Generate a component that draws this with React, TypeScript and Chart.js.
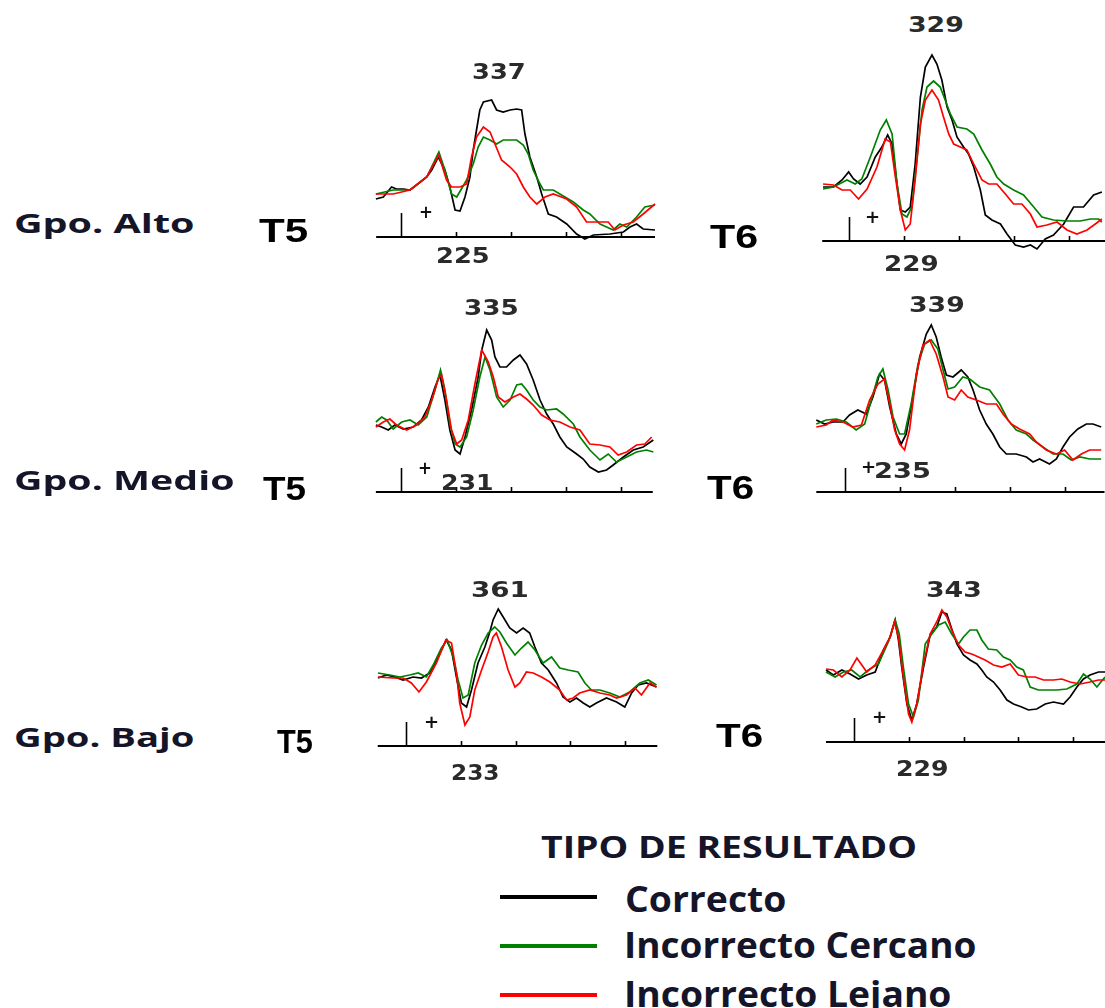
import React, { useEffect, useRef } from "react";
import { Chart, registerables } from "chart.js";

Chart.register(...registerables);

// ---------------- DATA ----------------
// Each trace: [time (ms after stimulus), amplitude (µV, arbitrary units above the axis)]
const seriesNames = ["Correcto", "Incorrecto Cercano", "Incorrecto Lejano"];
const seriesColors = ["#000000", "#008000", "#ff0000"];
const groupLabels = ["Gpo. Alto", "Gpo. Medio", "Gpo. Bajo"];
const electrodeLabels = ["T5", "T6"];
const tickTimes = [0, 200, 400, 600, 800];
const legendTitle = "TIPO DE RESULTADO";

// peak latency labels: [upper, lower] per panel
const altoT5Peaks = ["337", "225"];
const altoT6Peaks = ["329", "229"];
const medioT5Peaks = ["335", "231"];
const medioT6Peaks = ["339", "235"];
const bajoT5Peaks = ["361", "233"];
const bajoT6Peaks = ["343", "229"];

const altoT5Correcto = [[-90,3.8],[-63,4.0],[-33,5.0],[-15,4.8],[10,4.8],[34,4.7],[58,5.2],[95,6.0],[113,6.7],[137,8.0],[161,6.7],[179,5.0],[198,2.7],[216,2.6],[234,4.0],[252,6.0],[264,8.7],[276,10.7],[288,12.7],[301,13.5],[331,13.7],[349,12.7],[373,12.5],[398,12.7],[422,12.8],[440,12.7],[452,10.3],[470,8.0],[495,6.0],[513,4.3],[537,2.3],[567,2.0],[604,1.3],[640,0.3],[670,-0.2],[701,0.2],[761,0.3],[810,0.5],[834,1.0],[858,1.3],[882,0.8],[925,0.7]];
const altoT5Cercano = [[-90,4.3],[-27,4.7],[34,4.7],[95,6.0],[139,8.5],[161,6.7],[185,4.3],[204,4.0],[240,5.7],[264,7.3],[282,9.0],[301,10.0],[325,9.7],[349,9.3],[373,9.7],[422,9.7],[446,9.2],[464,8.3],[482,6.7],[507,5.3],[519,4.7],[555,4.7],[579,4.3],[628,3.5],[664,2.7],[688,2.3],[725,1.3],[773,0.7],[797,1.3],[822,1.0],[858,2.0],[888,3.0],[925,3.2]];
const altoT5Lejano = [[-90,4.3],[-27,4.3],[34,4.7],[95,6.0],[139,8.2],[167,5.7],[185,5.0],[216,5.0],[240,5.3],[258,8.0],[276,10.0],[301,11.0],[325,10.5],[343,9.3],[367,7.7],[398,7.0],[422,6.3],[446,5.0],[470,4.0],[495,3.3],[525,4.0],[555,4.3],[604,3.8],[640,3.0],[676,1.5],[725,1.5],[755,1.5],[779,0.7],[810,1.2],[846,1.5],[882,2.3],[925,3.3]];

const altoT6Correcto = [[-93,5.4],[-55,5.4],[-24,6.1],[0,6.9],[18,6.2],[42,5.7],[67,6.4],[97,8.4],[121,9.4],[142,10.6],[158,9.7],[176,5.7],[188,3.1],[206,2.9],[224,3.4],[242,7.7],[261,14.4],[279,17.4],[303,18.6],[321,17.7],[339,16.1],[358,13.4],[376,12.1],[394,10.4],[418,9.4],[436,8.7],[455,7.4],[479,5.1],[497,2.6],[521,2.1],[552,1.7],[576,0.7],[606,-0.4],[636,-0.6],[661,-0.4],[685,-0.8],[715,0.2],[745,0.6],[782,1.7],[818,3.4],[854,3.4],[891,4.6],[921,4.9]];
const altoT6Cercano = [[-93,5.2],[-55,5.4],[-6,6.1],[24,5.7],[48,6.2],[79,8.4],[115,11.1],[137,12.1],[158,10.7],[176,5.7],[194,2.7],[212,2.4],[230,3.4],[248,8.1],[267,13.1],[285,15.4],[309,16.0],[333,15.4],[351,14.1],[370,12.7],[394,11.4],[430,11.2],[455,10.7],[485,9.1],[515,7.7],[539,6.4],[564,5.7],[600,5.1],[636,4.6],[673,3.4],[703,2.4],[745,2.1],[794,2.0],[842,2.0],[879,2.2],[909,2.2],[921,1.9]];
const altoT6Lejano = [[-93,5.7],[-55,5.6],[-24,5.1],[6,5.1],[36,4.2],[67,5.2],[103,7.4],[133,10.2],[152,9.9],[170,6.4],[188,3.1],[206,1.1],[224,1.7],[242,6.1],[261,11.7],[279,14.1],[303,15.1],[327,14.1],[345,12.4],[364,10.7],[382,9.7],[406,9.4],[430,9.1],[455,7.7],[485,6.1],[509,5.7],[539,5.7],[570,4.7],[600,3.7],[630,3.7],[661,2.7],[685,1.4],[721,1.6],[758,1.9],[794,1.1],[830,0.7],[867,1.1],[897,1.7],[921,2.2]];

const medioT5Correcto = [[-90,6.7],[-69,6.5],[-45,6.2],[-21,6.7],[10,6.3],[46,6.5],[76,7.2],[101,8.5],[125,10.5],[143,11.7],[161,9.2],[179,6.2],[198,4.2],[216,3.8],[234,5.5],[258,8.2],[282,11.5],[295,14.2],[313,16.2],[331,15.2],[343,13.5],[361,12.5],[385,12.5],[410,13.2],[434,13.7],[458,12.8],[482,11.2],[507,9.2],[531,7.8],[555,6.8],[579,5.5],[604,4.5],[640,3.8],[664,3.3],[688,2.5],[719,2.0],[749,2.2],[773,2.7],[810,3.5],[846,4.2],[882,4.5],[919,5.2]];
const medioT5Cercano = [[-90,7.0],[-69,7.5],[-51,7.2],[-27,6.3],[4,7.0],[34,7.2],[64,6.7],[95,7.5],[125,10.2],[145,12.2],[161,10.2],[179,6.8],[198,4.8],[216,4.5],[240,5.5],[264,8.2],[288,11.5],[307,13.5],[325,12.2],[349,9.5],[373,8.5],[398,9.2],[422,10.7],[440,10.8],[458,10.2],[482,9.2],[507,8.5],[531,8.2],[567,8.3],[591,7.8],[628,6.8],[652,5.5],[688,4.2],[725,3.2],[755,3.8],[785,3.0],[822,3.5],[858,4.0],[894,4.2],[919,4.0]];
const medioT5Lejano = [[-90,6.5],[-63,7.0],[-39,7.3],[-15,6.7],[22,6.2],[58,6.7],[88,7.5],[113,9.2],[137,11.3],[149,11.7],[167,9.2],[185,6.2],[204,4.8],[222,5.2],[246,7.2],[270,10.8],[295,14.2],[319,13.0],[337,11.5],[355,9.5],[379,9.0],[410,9.5],[434,9.8],[458,9.3],[482,8.7],[513,7.7],[543,7.2],[579,7.0],[616,6.5],[652,6.2],[688,4.8],[725,4.7],[761,4.5],[791,3.7],[822,4.0],[858,4.7],[888,4.8],[913,5.5]];

const medioT6Correcto = [[-103,7.2],[-73,6.8],[-42,7.0],[-6,7.0],[18,7.7],[48,8.2],[79,7.8],[103,9.5],[127,11.8],[145,11.2],[164,8.5],[188,5.8],[206,4.8],[224,5.8],[248,9.5],[273,13.5],[297,15.8],[315,16.7],[333,15.5],[351,13.5],[370,11.7],[394,11.5],[424,12.2],[448,11.5],[467,10.2],[491,8.2],[515,6.8],[539,5.8],[564,4.5],[588,3.8],[624,3.8],[661,3.5],[685,3.0],[709,3.3],[745,2.8],[770,3.3],[794,4.5],[818,5.5],[848,6.3],[879,6.8],[903,6.8],[933,6.5]];
const medioT6Cercano = [[-103,6.8],[-67,7.2],[-30,7.3],[6,7.0],[42,6.2],[73,6.8],[97,9.2],[121,11.5],[139,12.3],[158,10.2],[176,7.5],[200,5.8],[218,5.8],[242,8.8],[267,12.8],[291,14.8],[315,15.2],[339,14.3],[358,12.2],[376,10.3],[400,10.5],[430,11.5],[455,11.3],[491,10.5],[527,10.2],[564,8.8],[594,7.2],[624,6.2],[661,5.8],[685,5.2],[721,4.5],[758,3.8],[794,3.8],[824,3.2],[855,3.5],[891,3.3],[933,3.3]];
const medioT6Lejano = [[-103,6.5],[-67,6.7],[-42,7.2],[-6,7.0],[30,6.5],[61,6.7],[91,9.2],[121,10.8],[145,11.3],[164,8.8],[182,6.2],[200,4.8],[218,4.2],[236,6.2],[261,11.8],[285,14.7],[309,15.2],[333,13.8],[358,11.5],[376,9.5],[400,9.2],[424,10.2],[448,9.5],[479,9.2],[515,8.8],[552,8.8],[576,7.8],[606,6.8],[636,6.3],[673,5.8],[697,5.0],[733,4.2],[770,3.8],[800,4.2],[830,3.2],[861,3.8],[891,4.2],[933,4.2]];

const bajoT5Correcto = [[-104,6.8],[-73,7.1],[-43,6.9],[-12,6.6],[24,6.9],[55,6.8],[85,7.3],[116,8.9],[146,10.6],[165,9.6],[183,6.9],[201,4.3],[220,3.9],[238,5.6],[262,8.3],[287,9.9],[305,11.4],[317,12.6],[336,13.7],[354,12.9],[378,11.8],[403,11.3],[427,11.8],[451,11.3],[470,9.9],[494,8.3],[519,7.6],[549,6.3],[573,4.9],[598,4.4],[622,4.8],[647,4.3],[671,3.9],[695,4.3],[732,4.8],[769,4.4],[799,3.9],[824,5.3],[848,6.1],[878,6.3],[915,5.9]];
const bajoT5Cercano = [[-104,7.3],[-61,7.1],[-24,6.9],[12,7.1],[43,7.3],[73,6.9],[98,8.1],[128,9.8],[149,10.6],[171,8.9],[189,6.6],[207,4.8],[226,5.1],[250,8.3],[275,10.1],[299,11.3],[323,11.9],[342,11.4],[366,10.3],[397,9.1],[421,9.8],[445,10.4],[470,9.6],[500,8.3],[531,8.9],[561,7.8],[592,7.6],[628,7.4],[653,6.3],[677,5.6],[708,5.6],[744,5.3],[781,4.9],[817,5.4],[854,6.3],[885,6.6],[915,6.1]];
const bajoT5Lejano = [[-104,6.9],[-49,6.8],[-12,6.8],[18,6.3],[46,5.4],[73,6.4],[110,8.3],[144,10.6],[165,10.3],[183,7.3],[195,4.3],[214,2.1],[232,2.9],[250,5.6],[275,7.6],[299,9.4],[317,10.9],[329,11.3],[348,9.9],[372,7.6],[397,5.9],[415,6.3],[439,7.4],[464,7.3],[494,6.9],[525,6.4],[561,5.6],[586,4.6],[610,4.8],[634,5.3],[671,5.6],[708,5.3],[744,5.1],[769,4.8],[805,5.1],[836,5.8],[860,5.1],[891,6.3],[915,5.9]];

const bajoT6Correcto = [[-104,7.2],[-77,6.7],[-46,7.2],[-16,6.8],[15,6.3],[45,6.7],[76,7.0],[106,9.2],[131,10.5],[149,12.2],[161,10.2],[173,7.5],[192,3.8],[210,2.2],[228,3.8],[253,7.5],[277,10.7],[301,11.5],[320,13.0],[338,12.8],[356,11.3],[375,9.8],[399,8.7],[423,8.2],[448,7.8],[466,7.2],[484,6.5],[509,6.0],[533,5.2],[558,4.2],[582,3.8],[612,3.5],[637,3.2],[667,3.3],[698,3.8],[728,4.0],[765,3.8],[789,4.5],[814,5.5],[838,6.3],[862,6.7],[893,7.0],[917,7.0]];
const bajoT6Cercano = [[-104,7.0],[-71,6.5],[-40,7.0],[-10,7.2],[21,6.5],[51,7.2],[88,7.8],[124,10.0],[149,12.2],[164,10.8],[179,7.5],[198,3.8],[216,2.5],[234,4.2],[259,9.8],[283,10.8],[308,11.7],[332,12.0],[356,10.8],[381,9.8],[399,10.5],[423,11.2],[448,11.2],[466,10.2],[490,9.3],[521,9.2],[545,8.5],[570,8.2],[594,7.5],[618,7.2],[643,5.5],[673,5.2],[704,5.2],[740,5.2],[777,5.3],[814,5.8],[838,6.8],[862,6.3],[887,5.5],[917,6.5]];
const bajoT6Lejano = [[-104,7.3],[-77,7.2],[-46,6.5],[-16,7.2],[9,8.4],[27,7.7],[45,7.0],[76,7.7],[106,9.2],[131,10.5],[146,12.0],[161,10.5],[179,6.5],[198,2.8],[210,2.0],[228,3.8],[253,7.8],[277,10.8],[301,12.0],[320,13.2],[338,12.5],[356,11.2],[381,9.7],[405,9.0],[429,8.8],[454,8.5],[478,8.2],[509,7.7],[539,7.5],[570,7.8],[600,6.7],[631,6.5],[661,6.5],[692,6.2],[728,6.2],[759,6.3],[789,6.0],[826,5.8],[862,6.0],[893,6.2],[917,6.2]];

// ---------------- LAYOUT ----------------
const X_MIN = -115;
const X_MAX = 945;
const Y_MIN = -2;
const Y_MAX = 20;
const PX_PER_UNIT = 10;

type Lbl = { x0: number; x1: number; base: number };
type PanelCfg = {
  traces: number[][][];
  peaks: string[];
  stimX: number;
  baseY: number;
  pxms: number;
  axis: [number, number];
  upper: Lbl;
  lower: Lbl;
  plus: { x0: number; x1: number; cy: number };
};

const panels: PanelCfg[] = [
  { traces: [altoT5Correcto, altoT5Cercano, altoT5Lejano], peaks: altoT5Peaks, stimX: 400.7, baseY: 236.7, pxms: 0.275, axis: [-89, 925],
    upper: { x0: 473, x1: 524, base: 78.5 }, lower: { x0: 437, x1: 488, base: 263 }, plus: { x0: 420, x1: 432, cy: 211.5 } },
  { traces: [altoT6Correcto, altoT6Cercano, altoT6Lejano], peaks: altoT6Peaks, stimX: 848.3, baseY: 240.7, pxms: 0.275, axis: [-96, 945],
    upper: { x0: 909, x1: 962, base: 32 }, lower: { x0: 885, x1: 937, base: 271 }, plus: { x0: 866, x1: 879, cy: 217 } },
  { traces: [medioT5Correcto, medioT5Cercano, medioT5Lejano], peaks: medioT5Peaks, stimX: 400.7, baseY: 491.7, pxms: 0.275, axis: [-90, 917],
    upper: { x0: 465, x1: 517, base: 315 }, lower: { x0: 442, x1: 492, base: 489.5 }, plus: { x0: 419, x1: 431, cy: 467.5 } },
  { traces: [medioT6Correcto, medioT6Cercano, medioT6Lejano], peaks: medioT6Peaks, stimX: 845, baseY: 491.7, pxms: 0.275, axis: [-103, 945],
    upper: { x0: 910, x1: 963, base: 312 }, lower: { x0: 875, x1: 929, base: 478 }, plus: { x0: 862, x1: 875, cy: 466.5 } },
  { traces: [bajoT5Correcto, bajoT5Cercano, bajoT5Lejano], peaks: bajoT5Peaks, stimX: 406.7, baseY: 746, pxms: 0.2733, axis: [-105, 918],
    upper: { x0: 472, x1: 527, base: 597 }, lower: { x0: 452, x1: 498, base: 780 }, plus: { x0: 425, x1: 438, cy: 721.5 } },
  { traces: [bajoT6Correcto, bajoT6Cercano, bajoT6Lejano], peaks: bajoT6Peaks, stimX: 854.3, baseY: 741.7, pxms: 0.2733, axis: [-104, 945],
    upper: { x0: 927, x1: 980, base: 597 }, lower: { x0: 897, x1: 947, base: 776 }, plus: { x0: 873, x1: 886, cy: 716.5 } },
];

const groupLabelPos: Lbl[] = [
  { x0: 15, x1: 193, base: 233 },
  { x0: 15, x1: 233, base: 490 },
  { x0: 15, x1: 193, base: 746.5 },
];
const electrodeLabelPos: Lbl[][] = [
  [{ x0: 259, x1: 307, base: 242 }, { x0: 710, x1: 757, base: 248 }],
  [{ x0: 263, x1: 305, base: 499.5 }, { x0: 707, x1: 753, base: 499 }],
  [{ x0: 277, x1: 312, base: 753 }, { x0: 716, x1: 762, base: 747 }],
];

// ---------------- TEXT HELPER ----------------
let measureCtx: CanvasRenderingContext2D | null = null;
function getCtx() {
  if (!measureCtx) measureCtx = document.createElement("canvas").getContext("2d");
  return measureCtx!;
}

function Txt(props: {
  text: string; x0: number; x1: number; base?: number; cy?: number;
  size: number; family: string; weight?: string; color?: string;
}) {
  const { text, x0, x1, size, family } = props;
  const weight = props.weight || "bold";
  const color = props.color || "#111";
  const font = `${weight} ${size}px ${family}`;
  const ctx = getCtx();
  ctx.font = font;
  const m = ctx.measureText(text);
  const inkW = m.actualBoundingBoxLeft + m.actualBoundingBoxRight;
  const sx = (x1 - x0) / inkW;
  const A = m.fontBoundingBoxAscent;
  const D = m.fontBoundingBoxDescent;
  let base = props.base ?? 0;
  if (props.cy !== undefined) {
    base = props.cy + (m.actualBoundingBoxAscent - m.actualBoundingBoxDescent) / 2;
  }
  const left = x0 + m.actualBoundingBoxLeft * sx;
  const top = base - A;
  return (
    <span
      style={{
        position: "absolute", left, top, font, lineHeight: `${A + D}px`,
        whiteSpace: "pre", color, transform: `scaleX(${sx})`, transformOrigin: "0 0",
      }}
    >
      {text}
    </span>
  );
}

// ---------------- AXIS PLUGIN ----------------
const erpAxisPlugin = {
  id: "erpAxis",
  beforeDatasetsDraw(chart: any, _args: any, opts: any) {
    const { ctx, scales } = chart;
    const xs = scales.x, ys = scales.y;
    const y0 = ys.getPixelForValue(0);
    ctx.save();
    ctx.strokeStyle = "#000";
    ctx.lineWidth = 2;
    ctx.beginPath();
    ctx.moveTo(xs.getPixelForValue(opts.from), y0);
    ctx.lineTo(xs.getPixelForValue(opts.to), y0);
    ctx.stroke();
    ctx.lineWidth = 1.6;
    for (const t of opts.ticks as number[]) {
      const px = Math.round(xs.getPixelForValue(t)) + 0.5;
      const h = t === 0 ? 24 : 5;
      ctx.beginPath();
      ctx.moveTo(px, y0);
      ctx.lineTo(px, y0 - h);
      ctx.stroke();
    }
    ctx.restore();
  },
};

function ErpPanel({ cfg }: { cfg: PanelCfg }) {
  const ref = useRef<HTMLCanvasElement | null>(null);
  const width = Math.round((X_MAX - X_MIN) * cfg.pxms);
  const height = (Y_MAX - Y_MIN) * PX_PER_UNIT;
  const left = cfg.stimX + X_MIN * cfg.pxms;
  const top = cfg.baseY - Y_MAX * PX_PER_UNIT;
  const xMax = X_MIN + width / cfg.pxms;

  useEffect(() => {
    if (!ref.current) return;
    const chart = new Chart(ref.current, {
      type: "line",
      data: {
        datasets: cfg.traces.map((tr, i) => ({
          label: seriesNames[i],
          data: tr.map(([x, y]) => ({ x, y })),
          borderColor: seriesColors[i],
          borderWidth: 1.7,
          pointRadius: 0,
          tension: 0,
          fill: false,
          order: 3 - i,
        })),
      },
      options: {
        animation: false,
        responsive: false,
        maintainAspectRatio: false,
        devicePixelRatio: 1,
        layout: { padding: 0 },
        events: [],
        scales: {
          x: { type: "linear", min: X_MIN, max: xMax, display: false },
          y: { type: "linear", min: Y_MIN, max: Y_MAX, display: false },
        },
        plugins: {
          legend: { display: false },
          tooltip: { enabled: false },
          erpAxis: { from: cfg.axis[0], to: cfg.axis[1], ticks: tickTimes },
        } as any,
      },
      plugins: [erpAxisPlugin],
    });
    return () => chart.destroy();
  }, []);

  return (
    <canvas
      ref={ref}
      width={width}
      height={height}
      style={{ position: "absolute", left, top, width, height }}
    />
  );
}

export default function App() {
  const numFont = "'DejaVu Sans'";
  const labelFont = "'Open Sans'";
  return (
    <div
      style={{
        position: "absolute", left: 0, top: 0, width: 1105, height: 1008,
        overflow: "hidden", background: "#fff",
      }}
    >
      {panels.map((p, i) => (
        <React.Fragment key={i}>
          <ErpPanel cfg={p} />
          <Txt text={p.peaks[0]} {...p.upper} size={22} family={numFont} color="#2a2a2a" />
          <Txt text={p.peaks[1]} {...p.lower} size={22} family={numFont} color="#2a2a2a" />
          <Txt text="+" x0={p.plus.x0} x1={p.plus.x1} cy={p.plus.cy} size={18} family={numFont} color="#111" />
        </React.Fragment>
      ))}
      {groupLabels.map((g, i) => (
        <Txt key={g} text={g} {...groupLabelPos[i]} size={27} family={labelFont} color="#15152a" />
      ))}
      {electrodeLabelPos.map((row, r) =>
        row.map((pos, c) => (
          <Txt key={`${r}-${c}`} text={electrodeLabels[c]} {...pos} size={34} family="'Liberation Sans'" color="#000" />
        ))
      )}
      <Txt text={legendTitle} x0={541} x1={915} base={858} size={31} family={labelFont} color="#15152a" />
      {seriesNames.map((s, i) => {
        const lineY = [896.7, 945.7, 995][i];
        const base = [911.5, 958.3, 1006.7][i];
        const x1 = [785, 975, 950][i];
        return (
          <React.Fragment key={s}>
            <div
              style={{
                position: "absolute", left: 500, top: lineY - 2, width: 97, height: 4,
                background: seriesColors[i],
              }}
            />
            <Txt text={s} x0={627} x1={x1} base={base} size={36} family={labelFont} color="#15152a" />
          </React.Fragment>
        );
      })}
    </div>
  );
}
